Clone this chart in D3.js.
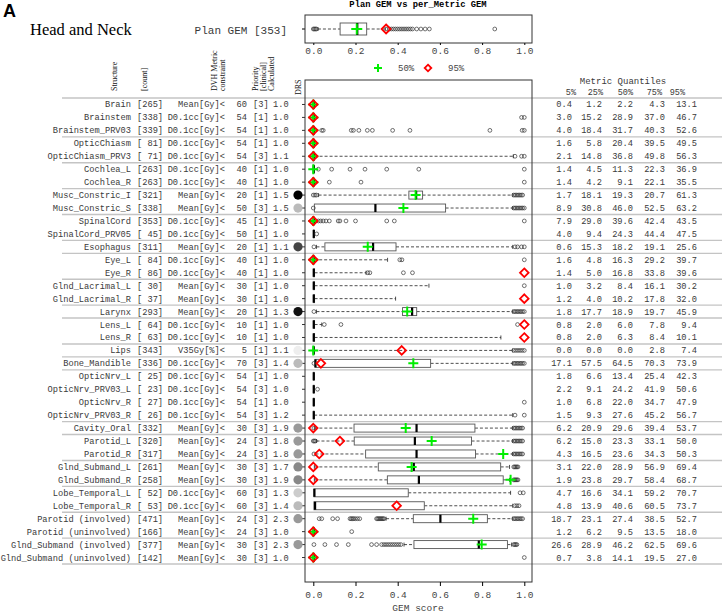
<!DOCTYPE html>
<html>
<head>
<meta charset="utf-8">
<script src="https://cdn.jsdelivr.net/npm/d3@7"></script>
<style>
  body { margin: 0; background: #fff; }
  svg text { font-family: "Liberation Mono", "Courier New", monospace; }
  .serif { font-family: "Liberation Serif", "Times New Roman", serif !important; }
</style>
</head>
<body>
<svg id="chart" width="722" height="612"></svg>
<script>
// table columns
var structures = ['Brain', 'Brainstem', 'Brainstem_PRV03', 'OpticChiasm', 'OpticChiasm_PRV3', 'Cochlea_L', 'Cochlea_R',
  'Musc_Constric_I', 'Musc_Constric_S', 'SpinalCord', 'SpinalCord_PRV05', 'Esophagus', 'Eye_L', 'Eye_R',
  'Glnd_Lacrimal_L', 'Glnd_Lacrimal_R', 'Larynx', 'Lens_L', 'Lens_R', 'Lips', 'Bone_Mandible', 'OpticNrv_L',
  'OpticNrv_PRV03_L', 'OpticNrv_R', 'OpticNrv_PRV03_R', 'Cavity_Oral', 'Parotid_L', 'Parotid_R', 'Glnd_Submand_L',
  'Glnd_Submand_R', 'Lobe_Temporal_L', 'Lobe_Temporal_R', 'Parotid (involved)', 'Parotid (uninvolved)',
  'Glnd_Submand (involved)', 'Glnd_Submand (uninvolved)']
var counts = [265, 338, 339, 81, 71, 263, 263, 321, 338, 353, 45, 311, 84, 86, 30, 37, 293, 64, 63, 343, 336, 25, 23, 27, 26,
  332, 320, 317, 261, 258, 52, 53, 471, 166, 377, 142]
var metrics = ['Mean[Gy]<', 'D0.1cc[Gy]<', 'D0.1cc[Gy]<', 'D0.1cc[Gy]<', 'D0.1cc[Gy]<', 'D0.1cc[Gy]<', 'D0.1cc[Gy]<',
  'Mean[Gy]<', 'Mean[Gy]<', 'D0.1cc[Gy]<', 'D0.1cc[Gy]<', 'Mean[Gy]<', 'D0.1cc[Gy]<', 'D0.1cc[Gy]<', 'Mean[Gy]<',
  'Mean[Gy]<', 'Mean[Gy]<', 'D0.1cc[Gy]<', 'D0.1cc[Gy]<', 'V35Gy[%]<', 'D0.1cc[Gy]<', 'D0.1cc[Gy]<', 'D0.1cc[Gy]<',
  'D0.1cc[Gy]<', 'D0.1cc[Gy]<', 'Mean[Gy]<', 'Mean[Gy]<', 'Mean[Gy]<', 'Mean[Gy]<', 'Mean[Gy]<', 'D0.1cc[Gy]<',
  'D0.1cc[Gy]<', 'Mean[Gy]<', 'Mean[Gy]<', 'Mean[Gy]<', 'Mean[Gy]<']
var limits = [60, 54, 54, 54, 54, 40, 40, 20, 50, 45, 50, 20, 40, 40, 30, 30, 20, 10, 10, 5, 70, 54, 54, 54, 54, 30, 24, 24, 30, 30,
  60, 60, 24, 24, 30, 30]
var priorities = [3, 1, 1, 1, 3, 1, 1, 1, 3, 1, 1, 1, 1, 1, 1, 1, 1, 1, 1, 1, 3, 1, 3, 1, 3, 3, 3, 3, 3, 3, 3, 3, 3, 3, 3, 3]
var calculated = [1.0, 1.0, 1.0, 1.0, 1.1, 1.0, 1.0, 1.5, 1.5, 1.0, 1.0, 1.1, 1.0, 1.0, 1.0, 1.0, 1.3, 1.0, 1.0, 1.1, 1.4, 1.0,
  1.0, 1.0, 1.2, 1.9, 1.8, 1.8, 1.7, 1.9, 1.3, 1.4, 2.3, 1.0, 2.3, 1.0]
var drsColors = [null, null, null, null, null, null, null, '#000', '#bbb', null, null, '#444', null, null, null, null, '#111',
  null, null, '#eee', '#bbb', null, null, null, null, '#999', '#999', '#999', '#888', '#888', '#ccc', '#bbb', '#999', null,
  '#999', null]
var groupStarts = [0, 3, 5, 7, 9, 11, 12, 14, 16, 17, 19, 20, 21, 25, 26, 28, 30, 32, 34, 36]

// metric quantiles
var quantileLabels = ['5%', '25%', '50%', '75%', '95%']
var q05 = [0.4, 3.0, 4.0, 1.6, 2.1, 1.4, 1.4, 1.7, 8.9, 7.9, 4.0, 0.6, 1.6, 1.4, 1.0, 1.2, 1.8, 0.8, 0.8, 0.0, 17.1, 1.8, 2.2,
  1.0, 1.5, 6.2, 6.2, 4.3, 3.1, 1.9, 4.7, 4.8, 18.7, 1.2, 26.6, 0.7]
var q25 = [1.2, 15.2, 18.4, 5.8, 14.8, 4.5, 4.2, 18.1, 30.8, 29.0, 9.4, 15.3, 4.8, 5.0, 3.2, 4.0, 17.7, 2.0, 2.0, 0.0, 57.5,
  6.6, 9.1, 6.8, 9.3, 20.9, 15.0, 16.5, 22.0, 23.8, 16.6, 13.9, 23.1, 6.2, 28.9, 3.8]
var q50 = [2.2, 28.9, 31.7, 20.4, 36.8, 11.3, 9.1, 19.3, 46.0, 39.6, 24.3, 18.2, 16.3, 16.8, 8.4, 10.2, 18.9, 6.0, 6.3, 0.0,
  64.5, 13.4, 24.2, 22.0, 27.6, 29.6, 23.3, 23.6, 28.9, 29.7, 34.1, 40.6, 27.4, 9.5, 46.2, 14.1]
var q75 = [4.3, 37.0, 40.3, 39.5, 49.8, 22.3, 22.1, 20.7, 52.5, 42.4, 44.4, 19.1, 29.2, 33.8, 16.1, 17.8, 19.7, 7.8, 8.4, 2.8,
  70.3, 25.4, 41.9, 34.7, 45.2, 39.4, 33.1, 34.3, 56.9, 58.4, 59.2, 60.5, 38.5, 13.5, 62.5, 19.5]
var q95 = [13.1, 46.7, 52.6, 49.5, 56.3, 36.9, 35.5, 61.3, 63.2, 43.5, 47.5, 25.6, 39.7, 39.6, 30.2, 32.0, 45.9, 9.4, 10.1, 7.4,
  73.9, 42.3, 50.6, 47.9, 56.7, 53.7, 50.0, 50.3, 69.4, 68.7, 70.7, 73.7, 52.7, 18.0, 69.6, 27.0]

// per_Metric GEM boxplots
var gemQ1 = [0, 0, 0, 0, 0, 0, 0, 0.453, 0.005, 0, 0, 0.055, 0, 0, 0, 0, 0.423, 0, 0, 0, 0.008, 0, 0, 0, 0, 0.193, 0.194,
  0.248, 0.308, 0.351, 0.003, 0.003, 0.474, 0, 0.477, 0]
var gemMedian = [0, 0, 0, 0, 0, 0, 0, 0.485, 0.292, 0, 0, 0.281, 0, 0, 0, 0, 0.466, 0, 0, 0, 0.008, 0, 0, 0, 0, 0.487, 0.479,
  0.487, 0.474, 0.498, 0.003, 0.006, 0.6, 0, 0.782, 0]
var gemQ3 = [0.004, 0.004, 0.004, 0.006, 0.006, 0.004, 0.004, 0.518, 0.627, 0.004, 0.004, 0.392, 0.004, 0.006, 0.006, 0.006,
  0.49, 0.006, 0.006, 0.004, 0.556, 0.004, 0.004, 0.004, 0.004, 0.766, 0.75, 0.769, 0.888, 0.9, 0.45, 0.526, 0.825, 0.004,
  0.92, 0.004]
var gemWhiskLo = [0, 0, 0, 0, 0, 0, 0, 0.025, 0.005, 0, 0, 0.015, 0, 0, 0, 0, 0.015, 0, 0, 0, 0.008, 0, 0, 0, 0, 0.005, 0.015,
  0.01, 0.005, 0.005, 0.003, 0.003, 0.345, 0, 0.43, 0]
var gemWhiskHi = [0.004, 0.004, 0.004, 0.006, 0.948, 0.004, 0.004, 0.945, 0.945, 0.004, 0.004, 0.945, 0.352, 0.25, 0.548,
  0.39, 0.945, 0.04, 0.889, 0.945, 0.945, 0.004, 0.004, 0.004, 0.945, 0.945, 0.945, 0.945, 0.93, 0.93, 0.935, 0.945, 0.945,
  0.004, 0.94, 0.004]
var gemOutliers = [
  [],
  [0.987, 1.0],
  [0.04, 0.047, 0.18, 0.19, 0.216, 0.256, 0.28, 0.376, 0.458, 0.837, 0.99, 1.0],
  [],
  [0.956, 0.987, 1.0],
  [0.024, 0.087, 0.174, 0.245, 0.348, 0.5, 1.0],
  [0.076, 0.226, 1.0],
  [0.0, 0.008, 0.015, 0.95, 0.957, 0.964, 0.971, 0.978, 0.985, 0.992],
  [0.0, 0.95, 0.957, 0.964, 0.971, 0.978, 0.985, 0.992, 1.0],
  [0.024, 0.035, 0.047, 0.06, 0.076, 0.118, 0.126, 0.155, 0.2, 0.348, 0.384, 1.0],
  [0.016],
  [0.003, 0.956, 0.968, 0.987, 1.0],
  [0.41, 0.42, 1.0],
  [0.258, 0.268, 0.427, 0.47],
  [1.0],
  [],
  [0.003, 0.95, 0.957, 0.964, 0.971, 0.978, 0.985, 0.992, 1.0],
  [0.052, 0.131, 0.968],
  [],
  [0.95, 0.96, 0.97, 0.98, 0.99, 1.0],
  [0.003, 0.95, 0.957, 0.964, 0.971, 0.978, 0.985, 0.992, 1.0],
  [],
  [0.02],
  [1.0],
  [0.956, 1.0],
  [0.003, 0.95, 0.957, 0.964, 0.971, 0.978, 0.985, 0.992],
  [0.0, 0.005, 0.01, 0.95, 0.957, 0.964, 0.971, 0.978, 0.985, 0.992],
  [0.003, 0.95, 0.957, 0.964, 0.971, 0.978, 0.985, 0.992],
  [0.95, 0.955, 0.96, 0.965, 0.97],
  [0.95, 0.955, 0.96, 0.965, 0.97],
  [0.98, 0.995],
  [0.955, 0.965, 0.975],
  [0.028, 0.04, 0.092, 0.115, 0.174, 0.18, 0.186, 0.192, 0.2, 0.21, 0.22, 0.3, 0.305, 0.31, 0.315, 0.32, 0.325, 0.33, 0.335,
    0.95, 0.957, 0.964, 0.971, 0.978, 0.985, 0.992],
  [0.182],
  [0.003, 0.055, 0.11, 0.166, 0.276, 0.3, 0.324, 0.335, 0.345, 0.355, 0.365, 0.375, 0.385, 0.395, 0.405, 0.415, 0.95, 0.955,
    0.96, 0.965],
  [1.0]
]
var gemAt50 = [0, 0, 0, 0, 0, 0, 0, 0.485, 0.427, 0, null, 0.258, 0, null, null, null, 0.445, null, null, 0, 0.474, null, null,
  null, null, 0.438, 0.561, 0.9, 0.466, 0.935, null, null, 0.758, 0, 0.798, 0]
var gemAt95 = [0, 0, 0, 0, 0, null, 0, null, null, 0, null, null, 0, 1.0, null, 1.0, null, 1.0, 1.0, 0.419, 0.036, null, null,
  null, null, 0, 0.126, 0.028, 0, 0, null, 0.395, null, 0, null, 0]

// Plan GEM boxplot
var planCount = 353
var planBox = [0.127, 0.206, 0.253]
var planWhisk = [0.022, 0.34]
var planOutliers = [0, 0.005, 0.01, 0.015, 0.35, 0.36, 0.37, 0.38, 0.39, 0.40, 0.41, 0.42, 0.43, 0.44, 0.45, 0.46, 0.47,
  0.49, 0.51, 0.53, 0.55, 0.86]
var planAt50 = 0.206
var planAt95 = 0.345
var gemTicks = [0, 0.2, 0.4, 0.6, 0.8, 1.0]

var svg = d3.select('#chart')
var textColor = '#3a3a3a'

var x = d3.scaleLinear().domain([0, 1]).range([313.3, 524.3])
var y = d3.scaleBand().domain(structures).range([98, 564])
var yTop = d3.scaleBand().domain(['plan']).range([15, 43])

function rowY(i) { return y(structures[i]) + y.bandwidth() / 2 }

function pad3(n) { return ('   ' + n).slice(-3) }

function drawBox(g, cy, h, q1, med, q3, lo, hi) {
  var dash = '3,2'
  if (lo < q1) {
    g.append('line').attr('x1', x(lo)).attr('x2', x(q1)).attr('y1', cy).attr('y2', cy)
      .attr('stroke', '#222').attr('stroke-width', 0.8).attr('stroke-dasharray', dash)
    g.append('line').attr('x1', x(lo)).attr('x2', x(lo)).attr('y1', cy - 2).attr('y2', cy + 2)
      .attr('stroke', '#222').attr('stroke-width', 0.8)
  }
  if (hi > q3) {
    g.append('line').attr('x1', x(q3)).attr('x2', x(hi)).attr('y1', cy).attr('y2', cy)
      .attr('stroke', '#222').attr('stroke-width', 0.8).attr('stroke-dasharray', dash)
    g.append('line').attr('x1', x(hi)).attr('x2', x(hi)).attr('y1', cy - 2).attr('y2', cy + 2)
      .attr('stroke', '#222').attr('stroke-width', 0.8)
  }
  g.append('rect').attr('x', x(q1)).attr('y', cy - h / 2).attr('width', Math.max(0.5, x(q3) - x(q1))).attr('height', h)
    .attr('fill', '#fff').attr('stroke', '#555').attr('stroke-width', 0.9)
  g.append('line').attr('x1', x(med) + 0.5).attr('x2', x(med) + 0.5).attr('y1', cy - h / 2).attr('y2', cy + h / 2)
    .attr('stroke', '#000').attr('stroke-width', 2.2)
}

function drawOutliers(g, cy, values) {
  g.selectAll(null).data(values).enter().append('circle')
    .attr('cx', function(d) { return x(d) }).attr('cy', cy).attr('r', 1.9)
    .attr('fill', 'none').attr('stroke', '#333').attr('stroke-width', 0.7)
}

function drawPlus(g, cx, cy, s) {
  g.append('path').attr('d', 'M' + (cx - s) + ',' + cy + 'H' + (cx + s) + 'M' + cx + ',' + (cy - s) + 'V' + (cy + s))
    .attr('stroke', '#00ee00').attr('stroke-width', 2).attr('fill', 'none')
}

function drawDiamond(g, cx, cy, s) {
  g.append('path').attr('d', 'M' + cx + ',' + (cy - s) + 'L' + (cx + s) + ',' + cy + 'L' + cx + ',' + (cy + s) + 'L' + (cx - s) + ',' + cy + 'Z')
    .attr('stroke', '#ff0000').attr('stroke-width', 1.8).attr('fill', 'none')
}

// titles
svg.append('text').attr('x', 3).attr('y', 17).text('A')
  .style('font-family', 'Arial, "Liberation Sans", sans-serif').style('font-weight', 'bold').style('font-size', '18px')
svg.append('text').attr('class', 'serif').attr('x', 30).attr('y', 35).text('Head and Neck').style('font-size', '16.5px')
svg.append('text').attr('x', 287).attr('y', 34).attr('text-anchor', 'end').text('Plan GEM [' + planCount + ']')
  .style('font-size', '11px').attr('fill', textColor)
svg.append('text').attr('x', 418).attr('y', 6.5).attr('text-anchor', 'middle').text('Plan GEM vs per_Metric GEM')
  .style('font-size', '8.8px').style('font-weight', 'bold')

// rotated column headers
var headerLabels = ['Structure', '[count]', 'DVH Metric', 'constraint', 'Priority', '[clinical]', 'Calculated', 'DRS']
var headerX = [117, 147, 217, 225, 258, 266, 274, 301]
var headerBottom = [91, 91, 91, 91, 91, 91, 91, 95]
headerLabels.forEach(function(label, i) {
  svg.append('text').attr('class', 'serif')
    .attr('transform', 'translate(' + headerX[i] + ',' + headerBottom[i] + ') rotate(-90)')
    .text(label).style('font-size', '8px').attr('fill', '#111')
})

// group separators
var sepG = svg.append('g')
groupStarts.forEach(function(k) {
  var yy = k < structures.length ? y(structures[k]) : y.range()[1]
  sepG.append('line').attr('x1', 62).attr('x2', 722).attr('y1', yy).attr('y2', yy)
    .attr('stroke', '#c4c4c4').attr('stroke-width', 1.4)
})

// table text
var table = svg.append('g').style('font-size', '8.7px').attr('fill', textColor)
structures.forEach(function(s, i) {
  var ty = rowY(i) + 3
  table.append('text').attr('x', 131).attr('y', ty).attr('text-anchor', 'end').text(s)
  table.append('text').attr('x', 137).attr('y', ty).text('[' + pad3(counts[i]) + ']').style('white-space', 'pre')
  table.append('text').attr('x', 225).attr('y', ty).attr('text-anchor', 'end').text(metrics[i])
  table.append('text').attr('x', 247).attr('y', ty).attr('text-anchor', 'end').text(limits[i])
  table.append('text').attr('x', 253).attr('y', ty).text('[' + priorities[i] + ']')
  table.append('text').attr('x', 273).attr('y', ty).text(calculated[i].toFixed(1))
  var qs = [q05[i], q25[i], q50[i], q75[i], q95[i]]
  var qx = [572, 602, 633, 665, 697]
  qs.forEach(function(v, j) {
    table.append('text').attr('x', qx[j]).attr('y', ty).attr('text-anchor', 'end').text(v.toFixed(1))
  })
})
svg.append('text').attr('x', 623).attr('y', 84).attr('text-anchor', 'middle').text('Metric Quantiles')
  .style('font-size', '9px').attr('fill', textColor)
var qhx = [576, 603, 633, 662, 685]
quantileLabels.forEach(function(l, j) {
  svg.append('text').attr('x', qhx[j]).attr('y', 95).attr('text-anchor', 'end').text(l)
    .style('font-size', '8.5px').attr('fill', textColor)
})

// main panel
var panel = svg.append('g')
panel.append('g').attr('transform', 'translate(305,0)')
  .call(d3.axisLeft(y).tickSize(3).tickFormat(''))
  .call(function(g) { g.select('.domain').remove() })
  .selectAll('line').attr('stroke', '#333')

structures.forEach(function(s, i) {
  var cy = rowY(i)
  if (drsColors[i]) {
    panel.append('circle').attr('cx', 298).attr('cy', cy).attr('r', 4.6).attr('fill', drsColors[i])
  }
  drawBox(panel, cy, 8, gemQ1[i], gemMedian[i], gemQ3[i], gemWhiskLo[i], gemWhiskHi[i])
  drawOutliers(panel, cy, gemOutliers[i])
})
structures.forEach(function(s, i) {
  var cy = rowY(i)
  if (gemAt50[i] !== null) drawPlus(panel, x(gemAt50[i]), cy, 5)
  if (gemAt95[i] !== null) drawDiamond(panel, x(gemAt95[i]), cy, 4.3)
})

panel.append('rect').attr('x', 305).attr('y', 80).attr('width', 227).attr('height', 502)
  .attr('fill', 'none').attr('stroke', '#333').attr('stroke-width', 1)

var xAxis = panel.append('g').attr('transform', 'translate(0,582)')
  .call(d3.axisBottom(x).tickValues(gemTicks).tickSize(4).tickPadding(5).tickFormat(d3.format('.1f')))
xAxis.select('.domain').remove()
xAxis.selectAll('text').style('font-size', '9.5px').attr('fill', '#444')
svg.append('text').attr('x', 418).attr('y', 610.5).attr('text-anchor', 'middle').text('GEM score')
  .style('font-size', '9.5px').attr('fill', '#444')

// plan panel
var planPanel = svg.append('g')
var cyTop = yTop('plan') + yTop.bandwidth() / 2
planPanel.append('g').attr('transform', 'translate(305,0)')
  .call(d3.axisLeft(yTop).tickSize(3).tickFormat(''))
  .call(function(g) { g.select('.domain').remove() })
drawBox(planPanel, cyTop, 12, planBox[0], planBox[1], planBox[2], planWhisk[0], planWhisk[1])
drawOutliers(planPanel, cyTop, planOutliers)
drawPlus(planPanel, x(planAt50), cyTop, 5.5)
drawDiamond(planPanel, x(planAt95), cyTop, 4.5)
planPanel.append('rect').attr('x', 305).attr('y', 15).attr('width', 227).attr('height', 28)
  .attr('fill', 'none').attr('stroke', '#333').attr('stroke-width', 1)
var topAxis = planPanel.append('g').attr('transform', 'translate(0,43)')
  .call(d3.axisBottom(x).tickValues(gemTicks).tickSize(2).tickPadding(2).tickFormat(d3.format('.1f')))
topAxis.select('.domain').remove()
topAxis.selectAll('text').style('font-size', '9.5px').attr('fill', '#444')

// legend
drawPlus(svg, 378, 68, 4)
svg.append('text').attr('x', 398).attr('y', 71).text('50%').style('font-size', '9px').attr('fill', '#444')
drawDiamond(svg, 428, 68, 3.3)
svg.append('text').attr('x', 448).attr('y', 71).text('95%').style('font-size', '9px').attr('fill', '#444')
</script>
</body>
</html>
